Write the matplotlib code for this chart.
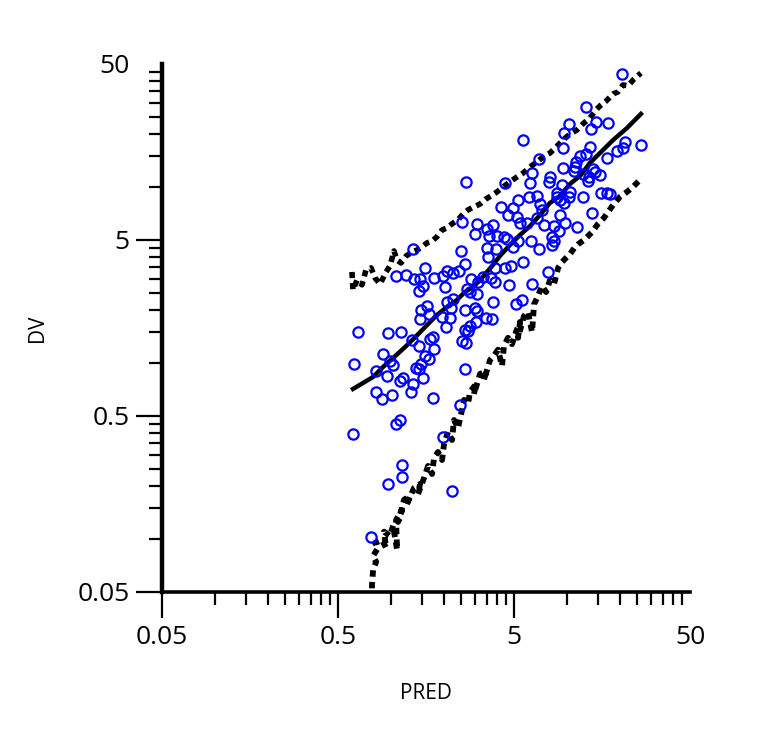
import matplotlib
matplotlib.use('Agg')
import matplotlib.pyplot as plt
from matplotlib.ticker import FixedLocator, FixedFormatter, NullFormatter

plt.rcParams['font.family'] = ['Open Sans', 'DejaVu Sans']

# 観測値 (PRED, DV)
pred = [20.5, 12.8, 14.6, 17.1, 10.3, 13.7, 9.62, 5.63, 21.4, 26.3,
        20.8, 19.3, 9.50, 13.5, 11.9, 12.8, 16.9, 6.94, 11.3, 9.50,
        11.1, 11.0, 14.1, 14.4, 15.4, 12.3, 13.3, 6.33, 8.01, 7.91,
        13.2, 6.17, 9.37, 4.44, 8.79, 10.4, 6.09, 6.76, 8.79, 10.3,
        12.3, 15.6, 16.9, 17.6, 5.27, 7.03, 9.62, 9.13, 4.22, 4.93,
        7.21, 9.13, 13.9, 4.62, 5.20, 6.76, 5.41, 5.93, 7.41, 8.44,
        9.74, 11.4, 9.01, 4.39, 4.56, 5.27, 6.24, 8.23, 8.44, 8.23,
        4.93, 6.94, 5.63, 4.44, 4.81, 7.80, 4.68, 6.33, 5.13, 5.55,
        2.67, 2.53, 3.08, 3.80, 3.51, 3.00, 3.60, 4.00, 1.33, 2.50,
        3.51, 3.95, 3.56, 2.63, 1.56, 2.08, 2.44, 2.25, 1.98, 1.07,
        1.22, 1.46, 1.35, 1.76, 2.85, 3.33, 3.90, 3.70, 3.90, 3.12,
        1.52, 2.03, 2.70, 1.44, 3.08, 2.81, 3.80, 2.08, 2.25, 1.60,
        1.48, 2.19, 2.63, 3.00, 1.64, 1.95, 1.46, 2.16, 3.08, 3.47,
        3.75, 3.04, 2.81, 2.05, 2.63, 2.74, 0.649, 0.962, 1.14, 1.32,
        1.73, 1.67, 2.53, 2.67, 1.44, 1.76, 0.901, 1.56, 1.64, 0.987,
        0.617, 1.03, 1.48, 1.39, 1.44, 0.823, 2.63, 0.949, 1.17, 1.13,
        1.52, 1.33, 0.823, 1.01, 1.30, 0.890, 1.73, 2.47, 1.07, 1.13,
        0.608, 1.98, 1.16, 1.16, 0.962, 2.22, 0.770]
dv = [43.9, 28.5, 23.4, 23.1, 22.8, 21.4, 20.3, 18.5, 18.0, 17.3,
      16.7, 16.0, 16.7, 16.9, 15.0, 15.4, 14.6, 14.4, 13.9, 12.8,
      13.0, 12.3, 12.7, 12.2, 11.7, 11.9, 11.4, 12.0, 11.4, 10.7,
      10.8, 10.5, 10.3, 10.5, 9.25, 9.37, 8.79, 8.90, 8.79, 8.79,
      8.79, 9.25, 9.25, 9.13, 8.44, 8.01, 8.12, 8.44, 7.70, 7.61,
      7.41, 6.94, 7.12, 6.94, 6.76, 6.67, 6.24, 6.24, 6.09, 6.00,
      6.24, 5.93, 5.63, 5.20, 5.07, 4.93, 4.93, 5.20, 4.93, 4.68,
      4.56, 4.44, 3.75, 3.47, 3.56, 3.29, 2.78, 2.81, 2.16, 2.28,
      10.7, 6.33, 6.17, 6.09, 5.78, 5.41, 5.27, 5.27, 4.44, 4.33,
      4.50, 4.44, 4.00, 3.65, 3.47, 3.33, 3.33, 3.25, 3.12, 3.12,
      3.16, 3.00, 3.00, 3.04, 3.00, 3.08, 3.47, 3.04, 2.89, 2.89,
      2.74, 2.70, 2.63, 2.57, 2.47, 2.53, 2.22, 2.22, 2.31, 2.11,
      2.00, 2.05, 2.00, 2.05, 1.90, 1.82, 1.78, 1.80, 1.98, 1.80,
      1.78, 1.71, 1.62, 1.60, 1.54, 1.52, 1.50, 1.48, 1.50, 1.35,
      1.41, 1.37, 1.33, 1.30, 1.25, 1.20, 1.13, 1.10, 1.05, 1.03,
      0.987, 0.974, 0.987, 0.937, 0.925, 0.901, 0.925, 0.844, 0.823, 0.791,
      0.823, 0.760, 0.685, 0.658, 0.685, 0.624, 0.633, 0.578, 0.450, 0.474,
      0.395, 0.380, 0.263, 0.225, 0.205, 0.187, 0.103]

# 中央値
med_pred = [0.608, 0.694, 0.791, 0.901, 1.03, 1.20, 1.41, 1.60, 1.82, 2.08,
            2.37, 2.63, 2.92, 3.21, 3.51, 3.80, 4.16, 4.74, 5.41, 6.17,
            7.03, 8.01, 9.13, 10.4, 11.9, 13.5, 15.4, 18.3, 21.9, 26.3]
med_dv = [0.712, 0.770, 0.833, 0.949, 1.07, 1.23, 1.44, 1.64, 1.87, 2.08,
          2.28, 2.53, 2.70, 2.96, 3.29, 3.61, 4.06, 4.68, 5.34, 6.00,
          6.94, 8.12, 8.90, 10.4, 11.6, 13.7, 15.6, 18.5, 21.6, 26.0]

# 上側パーセンタイル
hi_pred = [0.600, 0.608, 0.641, 0.684, 0.721, 0.770, 0.812, 0.867, 0.937, 0.987,
           1.04, 1.08, 1.14, 1.22, 1.32, 1.41, 1.50, 1.60, 1.71, 1.82,
           1.95, 2.08, 2.22, 2.40, 2.57, 2.74, 2.96, 3.21, 3.47, 3.70,
           4.00, 4.33, 4.74, 5.20, 5.63, 6.17, 6.76, 7.31, 8.01, 8.79,
           9.50, 10.4, 11.4, 12.3, 13.5, 14.6, 15.4, 16.7, 18.3, 19.5,
           20.8, 22.2, 24.0, 26.3]
hi_dv = [3.29, 2.60, 2.96, 2.78, 3.38, 3.47, 3.04, 2.81, 3.29, 3.56,
         4.33, 3.85, 3.70, 4.06, 4.27, 4.39, 4.56, 4.81, 4.93, 5.20,
         5.70, 5.85, 6.17, 6.50, 7.03, 7.41, 7.70, 8.01, 8.55, 8.90,
         9.37, 10.0, 10.7, 11.4, 12.0, 13.0, 13.9, 14.8, 15.6, 17.1,
         18.5, 20.0, 21.1, 22.8, 24.7, 27.4, 28.9, 30.8, 33.8, 34.7,
         38.0, 37.5, 41.0, 44.4]

# 下側パーセンタイル
lo_pred = [0.780, 0.780, 0.791, 0.823, 0.791, 0.844, 0.812, 0.890, 0.937, 0.913,
           0.987, 1.027, 1.083, 1.068, 1.156, 1.097, 1.186, 1.283, 1.217, 1.352,
           1.462, 1.424, 1.541, 1.623, 1.711, 1.756, 1.850, 1.950, 2.002, 2.109,
           2.222, 2.281, 2.403, 2.532, 2.600, 2.739, 2.812, 3.041, 2.963, 3.205,
           3.466, 3.376, 3.654, 3.850, 4.055, 4.273, 4.385, 4.621, 4.870, 5.13,
           5.41, 5.27, 5.70, 6.00, 6.33, 6.50, 6.84, 7.21, 7.61, 8.01,
           8.44, 8.90, 9.37, 9.87, 10.4, 11.0, 11.6, 12.5, 13.2, 13.9,
           15.0, 16.2, 17.1, 18.3, 20.0, 21.9, 23.7, 26.0]
lo_dv = [0.045, 0.0548, 0.0667, 0.0741, 0.0801, 0.0890, 0.0950, 0.0987, 0.0890, 0.110,
         0.104, 0.119, 0.0867, 0.128, 0.146, 0.125, 0.167, 0.176, 0.154, 0.195,
         0.205, 0.180, 0.222, 0.260, 0.234, 0.289, 0.312, 0.281, 0.347, 0.406,
         0.365, 0.474, 0.427, 0.541, 0.617, 0.585, 0.685, 0.760, 0.667, 0.867,
         0.890, 0.801, 1.04, 1.10, 1.19, 0.962, 1.25, 1.39, 1.28, 1.50,
         1.71, 1.39, 1.85, 1.95, 1.50, 2.16, 2.40, 2.74, 2.53, 2.96,
         2.81, 3.47, 3.75, 3.95, 4.16, 4.50, 4.74, 5.00, 5.27, 5.55,
         6.17, 6.67, 7.21, 7.91, 8.79, 9.37, 10.0, 11.0]

major = [0.05, 0.5, 5, 50]
major_labels = ['0.05', '0.5', '5', '50']
minor = [k * 0.05 * 10 ** n for n in range(3) for k in range(2, 10)]

fig = plt.figure(figsize=(7.6, 7.36), dpi=100)
ax = fig.add_axes([0.2132, 0.1957, 0.6947, 0.7174])

dots = (0, (1.1, 0.9))
ax.plot(hi_pred, hi_dv, color='black', lw=4.0, ls=dots, zorder=2)
ax.plot(lo_pred, lo_dv, color='black', lw=4.2, ls=dots, zorder=2)
ax.plot(med_pred, med_dv, color='black', lw=3.2, zorder=2)
ax.plot(pred, dv, 'o', mfc='none', mec='#0000ff', ms=7.4, mew=1.6, zorder=3)

ax.set_xscale('log')
ax.set_yscale('log')
ax.set_xlim(0.05, 50)
ax.set_ylim(0.05, 50)

for axis in (ax.xaxis, ax.yaxis):
    axis.set_major_locator(FixedLocator(major))
    axis.set_major_formatter(FixedFormatter(major_labels))
    axis.set_minor_locator(FixedLocator(minor))
    axis.set_minor_formatter(NullFormatter())

ax.spines['top'].set_visible(False)
ax.spines['right'].set_visible(False)
ax.spines['left'].set_linewidth(3.2)
ax.spines['bottom'].set_linewidth(2.6)

ax.tick_params(which='major', direction='out', length=18.5, width=1.6,
               labelsize=19, pad=5)
ax.tick_params(which='minor', direction='out', length=9.5, width=1.6)
ax.xaxis.get_major_ticks()[-1].tick1line.set_visible(False)
ax.yaxis.get_major_ticks()[-1].tick1line.set_visible(False)

ax.set_xlabel('PRED', fontsize=15, labelpad=24)
ax.set_ylabel('DV', fontsize=15, labelpad=21)

fig.savefig('out.png', dpi=100, facecolor='white')
